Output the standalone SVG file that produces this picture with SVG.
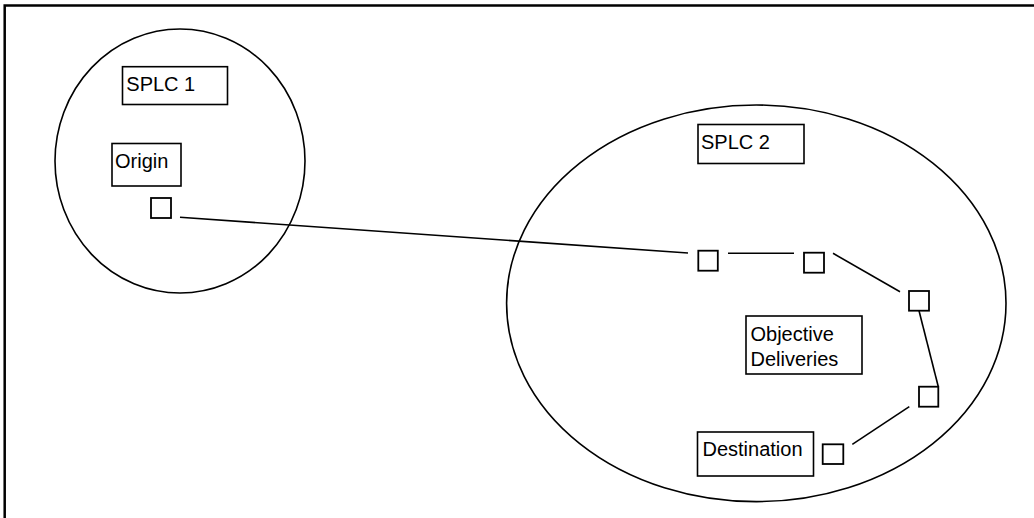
<svg xmlns="http://www.w3.org/2000/svg" width="1034" height="518" viewBox="0 0 1034 518">
<style>
.frame{fill:none;stroke:#000;stroke-width:2.5}
.region{fill:none;stroke:#000;stroke-width:1.6}
.box{fill:#fff;stroke:#000;stroke-width:1.6}
.pt{fill:#fff;stroke:#000;stroke-width:1.8}
.conn{fill:none;stroke:#000;stroke-width:1.6}
text{font-family:"Liberation Sans",Arial,sans-serif;font-size:20px;fill:#000}
</style>
<rect width="1034" height="518" fill="#fff"/>
<rect class="frame" x="4.7" y="5.5" width="1100" height="600"/>
<g id="splc1-region"><ellipse class="region" cx="180" cy="161" rx="125" ry="132"/></g>
<g id="splc2-region"><ellipse class="region" cx="756.3" cy="303.3" rx="249.7" ry="198.3"/></g>
<g id="connectors">
<line class="conn" x1="180" y1="217.3" x2="688" y2="253"/>
<line class="conn" x1="728" y1="253.3" x2="794" y2="253.3"/>
<line class="conn" x1="833" y1="253.3" x2="900" y2="291.7"/>
<line class="conn" x1="919" y1="310.7" x2="938.3" y2="386.7"/>
<line class="conn" x1="909.3" y1="406.7" x2="852.3" y2="444.3"/>
</g>
<g id="splc1-label"><rect class="box" x="122.5" y="66.7" width="105" height="37.8"/><text x="126.3" y="90.7">SPLC 1</text></g>
<g id="origin-label"><rect class="box" x="112" y="143.5" width="69" height="42.5"/><text x="115" y="168">Origin</text></g>
<g id="origin-point"><rect class="pt" x="151" y="198" width="20" height="20"/></g>
<g id="splc2-label"><rect class="box" x="698" y="124.5" width="106" height="39"/><text x="701" y="149">SPLC 2</text></g>
<g id="p1"><rect class="pt" x="698.3" y="250.7" width="19.5" height="20"/></g>
<g id="p2"><rect class="pt" x="804" y="252.7" width="20" height="20"/></g>
<g id="p3"><rect class="pt" x="909" y="291" width="20" height="19.7"/></g>
<g id="p4"><rect class="pt" x="919" y="386.7" width="19.3" height="20"/></g>
<g id="destination-point"><rect class="pt" x="822.7" y="444.3" width="20.6" height="19.7"/></g>
<g id="objective-label"><rect class="box" x="746" y="316" width="116" height="58"/><text x="750.5" y="340.5">Objective</text><text x="750.5" y="365.5">Deliveries</text></g>
<g id="destination-label"><rect class="box" x="697.5" y="432" width="116" height="44"/><text x="702.5" y="456">Destination</text></g>
</svg>
